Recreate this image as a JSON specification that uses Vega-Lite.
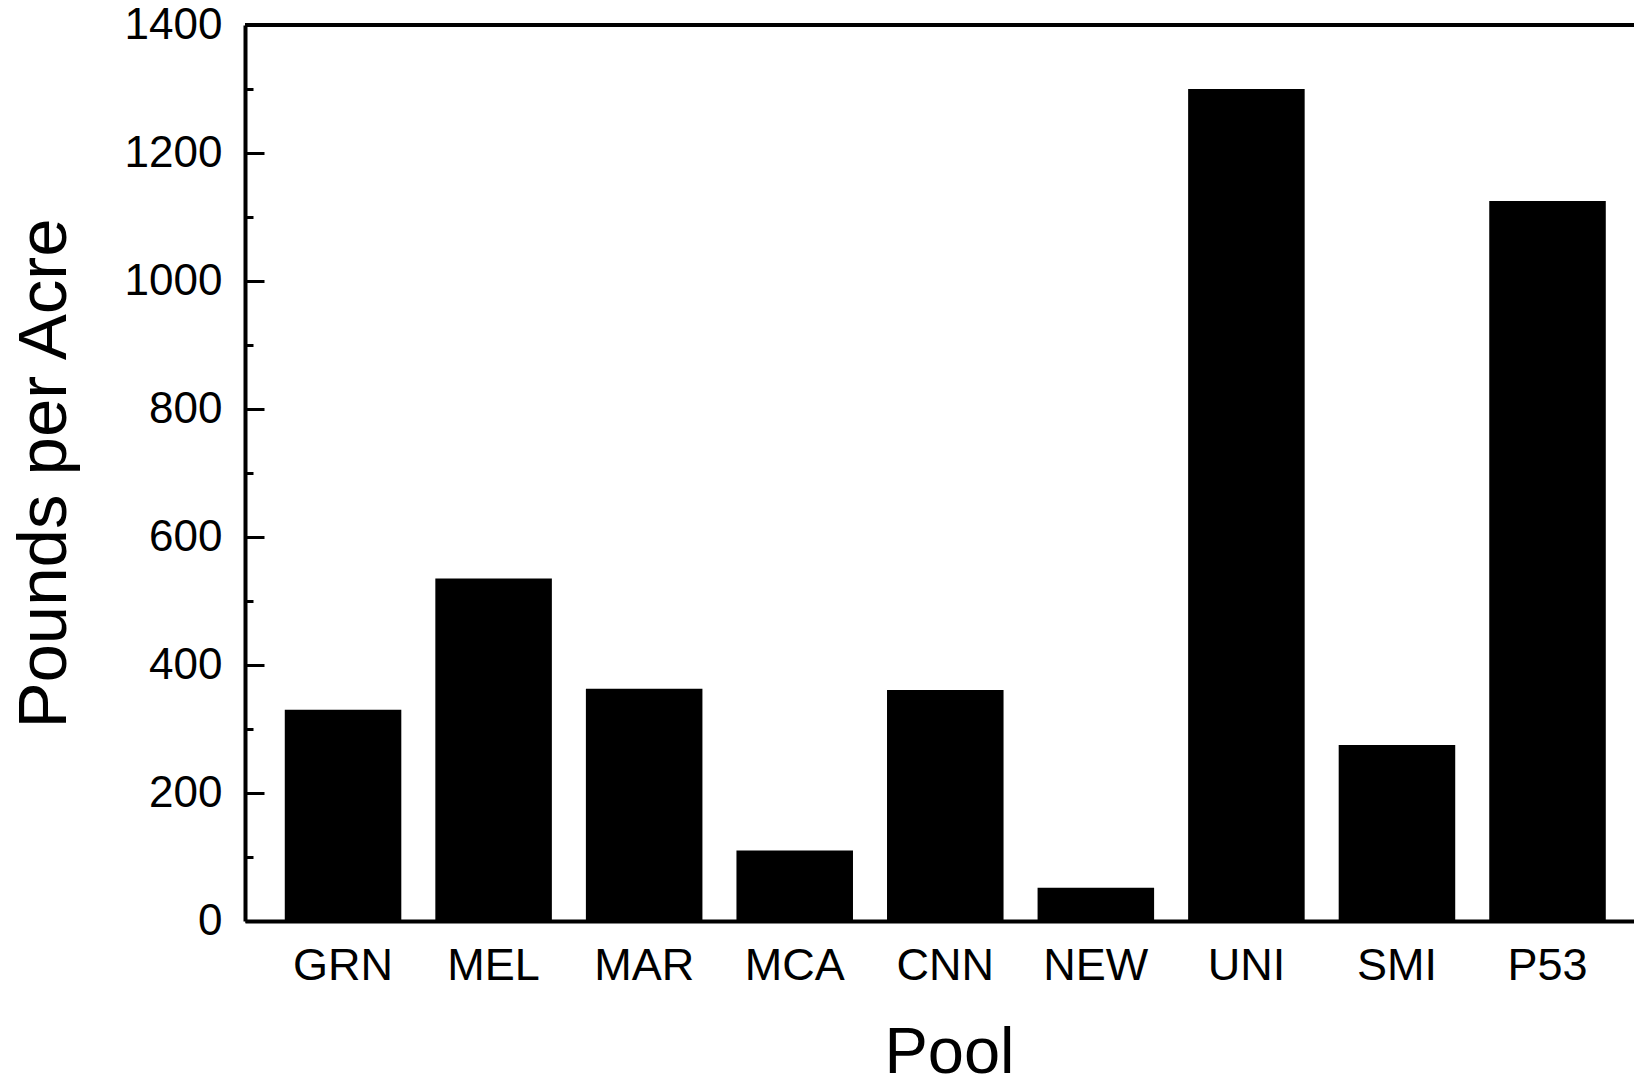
{
  "$schema": "https://vega.github.io/schema/vega-lite/v6.json",
  "width": 1389,
  "height": 896,
  "autosize": {"type": "none"},
  "padding": {"left": 245, "top": 25, "right": 0, "bottom": 165},
  "background": "white",
  "config": {
    "view": {"stroke": null},
    "font": "Liberation Sans",
    "axis": {"labelFont": "Liberation Sans", "titleFont": "Liberation Sans", "labelColor": "black", "titleColor": "black", "titleFontWeight": "normal", "grid": false}
  },
  "data": {
    "values": [
      {"pool": "GRN", "value": 330},
      {"pool": "MEL", "value": 535},
      {"pool": "MAR", "value": 363},
      {"pool": "MCA", "value": 110},
      {"pool": "CNN", "value": 361},
      {"pool": "NEW", "value": 52},
      {"pool": "UNI", "value": 1300},
      {"pool": "SMI", "value": 275},
      {"pool": "P53", "value": 1125}
    ]
  },
  "layer": [
    {
      "mark": {"type": "bar", "color": "black"},
      "encoding": {
        "x": {
          "field": "pool",
          "type": "nominal",
          "sort": null,
          "scale": {"paddingInner": 0.226, "paddingOuter": 0.2258, "align": 0.585},
          "axis": {
            "title": "Pool",
            "labelAngle": 0,
            "ticks": false,
            "domainColor": "black",
            "domainWidth": 4,
            "labelFontSize": 45,
            "labelPadding": 22,
            "titleFontSize": 65,
            "titlePadding": 33,
            "titleX": 704
          }
        },
        "y": {
          "field": "value",
          "type": "quantitative",
          "scale": {"domain": [0, 1400], "nice": false},
          "axis": {
            "values": [0, 200, 400, 600, 800, 1000, 1200, 1400],
            "format": "d",
            "tickSize": -19,
            "tickWidth": 3,
            "tickColor": "black",
            "domainWidth": 4,
            "domainColor": "black",
            "labelFontSize": 44,
            "labelPadding": 42,
            "title": "Pounds per Acre",
            "titleFontSize": 69,
            "titlePadding": 45
          }
        }
      }
    },
    {
      "mark": {"type": "rule", "strokeWidth": 4, "color": "black"},
      "encoding": {
        "y": {
          "datum": 1400,
          "type": "quantitative",
          "axis": {
            "orient": "left",
            "values": [100, 300, 500, 700, 900, 1100, 1300],
            "tickSize": -8,
            "tickWidth": 3,
            "tickColor": "black",
            "labels": false,
            "domain": false,
            "title": null,
            "grid": false
          }
        }
      }
    }
  ],
  "resolve": {"axis": {"y": "independent"}}
}
